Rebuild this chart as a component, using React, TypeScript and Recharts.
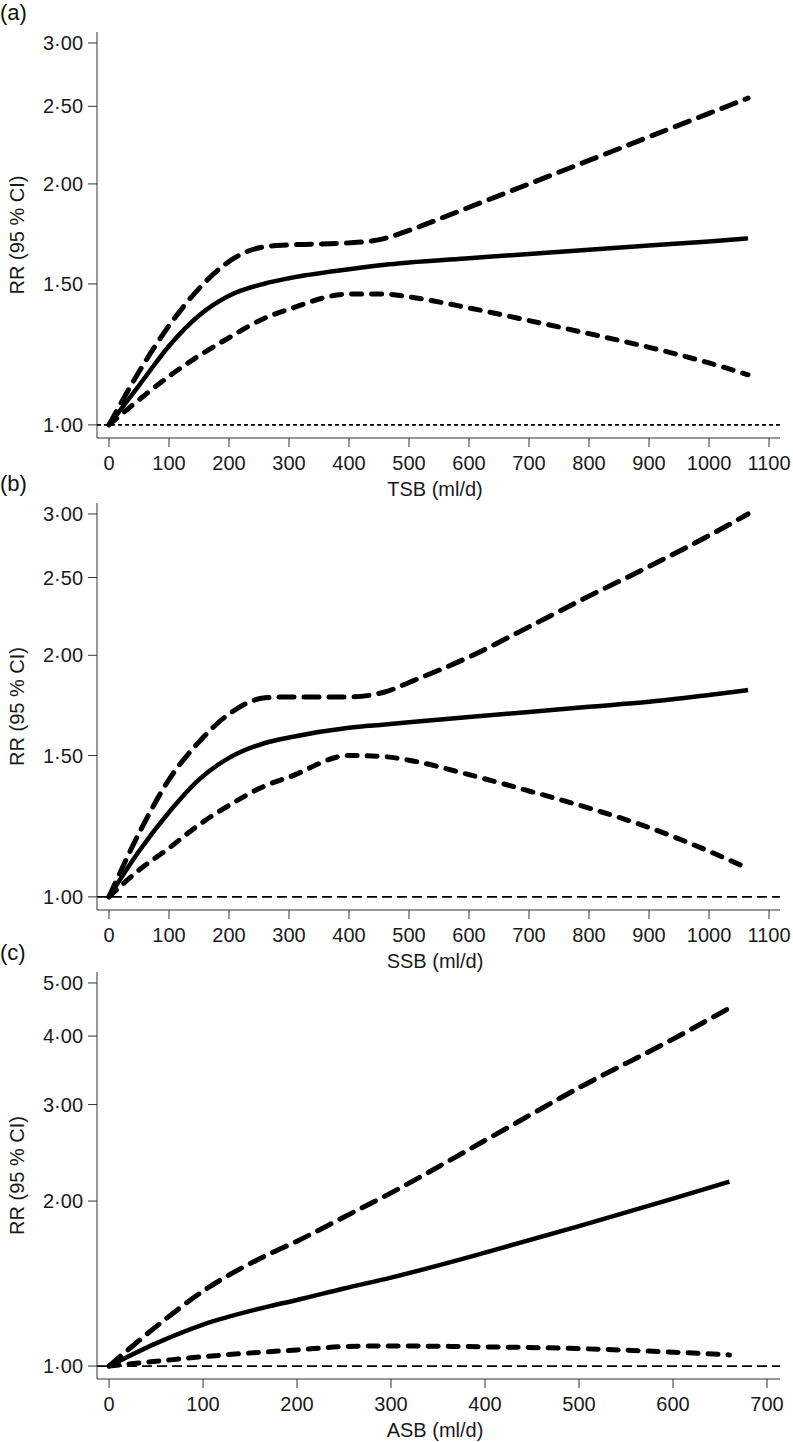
import React from "react";
import { LineChart, Line, XAxis, YAxis, ReferenceLine } from "recharts";

const FONT = '"Liberation Sans", Arial, Helvetica, sans-serif';

// (a) total sweetened beverages
const TSB_X = [0, 50, 100, 150, 200, 260, 300, 400, 460, 500, 600, 700, 800, 900, 1000, 1065];
const TSB_RR = [1, 1.12, 1.255, 1.37, 1.45, 1.502, 1.525, 1.565, 1.585, 1.595, 1.615, 1.635, 1.655, 1.675, 1.695, 1.71];
const TSB_LO = [1, 1.075, 1.15, 1.22, 1.285, 1.36, 1.395, 1.457, 1.457, 1.445, 1.4, 1.35, 1.3, 1.25, 1.195, 1.155];
const TSB_HI = [1, 1.165, 1.33, 1.48, 1.6, 1.67, 1.678, 1.688, 1.71, 1.75, 1.87, 2.0, 2.14, 2.29, 2.45, 2.56];

// (b) sugar-sweetened beverages
const SSB_X = [0, 50, 100, 150, 200, 260, 300, 400, 460, 500, 600, 700, 800, 900, 1000, 1065];
const SSB_RR = [1, 1.14, 1.275, 1.4, 1.49, 1.555, 1.58, 1.625, 1.64, 1.65, 1.675, 1.7, 1.725, 1.75, 1.785, 1.81];
const SSB_LO = [1, 1.08, 1.15, 1.23, 1.3, 1.375, 1.41, 1.5, 1.495, 1.48, 1.42, 1.355, 1.29, 1.22, 1.14, 1.085];
const SSB_HI = [1, 1.2, 1.4, 1.56, 1.69, 1.77, 1.775, 1.775, 1.8, 1.85, 1.99, 2.17, 2.37, 2.58, 2.82, 3.0];

// (c) artificially sweetened beverages
const ASB_X = [0, 50, 100, 170, 200, 250, 300, 400, 500, 600, 660];
const ASB_RR = [1, 1.1, 1.19, 1.285, 1.32, 1.385, 1.45, 1.61, 1.8, 2.02, 2.17];
const ASB_LO = [1, 1.02, 1.04, 1.062, 1.07, 1.085, 1.088, 1.084, 1.076, 1.06, 1.048];
const ASB_HI = [1, 1.18, 1.37, 1.6, 1.69, 1.87, 2.07, 2.58, 3.22, 3.95, 4.5];

const X_TICKS_AB = [0, 100, 200, 300, 400, 500, 600, 700, 800, 900, 1000, 1100];
const X_TICKS_C = [0, 100, 200, 300, 400, 500, 600, 700];
const Y_TICKS_AB = [1, 1.5, 2, 2.5, 3];
const Y_TICKS_C = [1, 2, 3, 4, 5];

const fmtRR = (v: number) => v.toFixed(2).replace(".", "\u00b7");

interface PanelProps {
  letter: string;
  top: number;
  xs: number[];
  rr: number[];
  lo: number[];
  hi: number[];
  xDomain: [number, number];
  xTicks: number[];
  yDomain: [number, number];
  yTicks: number[];
  xTitle: string;
  plotH: number;
  refDash: string;
}

const MARGIN_TOP = 32;
const AXIS_H = 62;

const Panel = ({
  letter,
  top,
  xs,
  rr,
  lo,
  hi,
  xDomain,
  xTicks,
  yDomain,
  yTicks,
  xTitle,
  plotH,
  refDash,
}: PanelProps) => {
  const data = xs.map((x, i) => ({ x, rr: rr[i], lo: lo[i], hi: hi[i] }));
  const plotBottom = MARGIN_TOP + plotH;

  return (
    <div style={{ position: "absolute", left: 0, top, width: 793 }}>
      <div
        style={{
          position: "absolute",
          left: 0,
          top: 0,
          fontFamily: FONT,
          fontSize: 22,
          lineHeight: "26px",
          color: "#111",
        }}
      >
        {letter}
      </div>
      <LineChart
        width={793}
        height={plotBottom + AXIS_H}
        data={data}
        margin={{ top: MARGIN_TOP, right: 13, left: 0, bottom: 0 }}
      >
        <XAxis
          type="number"
          dataKey="x"
          domain={xDomain}
          ticks={xTicks}
          allowDataOverflow
          height={AXIS_H}
          tickSize={9}
          tickMargin={9}
          stroke="#333"
          tick={{ fill: "#1a1a1a", fontSize: 20, fontFamily: FONT }}
          label={{
            content: () => (
              <text
                x={435}
                y={plotBottom + 51}
                textAnchor="middle"
                dominantBaseline="central"
                fill="#1a1a1a"
                fontSize={20}
                fontFamily={FONT}
              >
                {xTitle}
              </text>
            ),
          }}
        />
        <YAxis
          scale="log"
          domain={yDomain}
          ticks={yTicks}
          allowDataOverflow
          width={97}
          tickSize={9}
          tickMargin={5}
          stroke="#333"
          tickFormatter={fmtRR}
          tick={{ fill: "#1a1a1a", fontSize: 20, fontFamily: FONT }}
          label={{
            content: () => (
              <text
                x={17}
                y={MARGIN_TOP + plotH / 2}
                textAnchor="middle"
                dominantBaseline="central"
                transform={`rotate(-90, 17, ${MARGIN_TOP + plotH / 2})`}
                fill="#1a1a1a"
                fontSize={20}
                fontFamily={FONT}
              >
                RR (95 % CI)
              </text>
            ),
          }}
        />
        <ReferenceLine y={1} stroke="#000" strokeWidth={1.8} strokeDasharray={refDash} />
        <Line
          dataKey="hi"
          type="monotone"
          stroke="#000"
          strokeWidth={5}
          strokeDasharray="15 10"
          strokeLinecap="round"
          dot={false}
          isAnimationActive={false}
        />
        <Line
          dataKey="lo"
          type="monotone"
          stroke="#000"
          strokeWidth={5}
          strokeDasharray="10 10"
          strokeLinecap="round"
          dot={false}
          isAnimationActive={false}
        />
        <Line
          dataKey="rr"
          type="monotone"
          stroke="#000"
          strokeWidth={4.5}
          dot={false}
          isAnimationActive={false}
        />
      </LineChart>
    </div>
  );
};

const App = () => (
  <div
    style={{
      position: "absolute",
      left: 0,
      top: 0,
      width: 793,
      height: 1442,
      background: "#fff",
      overflow: "hidden",
    }}
  >
    <Panel
      letter="(a)"
      top={0}
      xs={TSB_X}
      rr={TSB_RR}
      lo={TSB_LO}
      hi={TSB_HI}
      xDomain={[-20, 1118.3]}
      xTicks={X_TICKS_AB}
      yDomain={[0.963, 3.096]}
      yTicks={Y_TICKS_AB}
      xTitle="TSB (ml/d)"
      plotH={406}
      refDash="4 3"
    />
    <Panel
      letter="(b)"
      top={471}
      xs={SSB_X}
      rr={SSB_RR}
      lo={SSB_LO}
      hi={SSB_HI}
      xDomain={[-20, 1118.3]}
      xTicks={X_TICKS_AB}
      yDomain={[0.963, 3.096]}
      yTicks={Y_TICKS_AB}
      xTitle="SSB (ml/d)"
      plotH={407}
      refDash="10 5"
    />
    <Panel
      letter="(c)"
      top={940}
      xs={ASB_X}
      rr={ASB_RR}
      lo={ASB_LO}
      hi={ASB_HI}
      xDomain={[-12.8, 713.8]}
      xTicks={X_TICKS_C}
      yDomain={[0.947, 5.236]}
      yTicks={Y_TICKS_C}
      xTitle="ASB (ml/d)"
      plotH={407}
      refDash="10 5"
    />
  </div>
);

export default App;
